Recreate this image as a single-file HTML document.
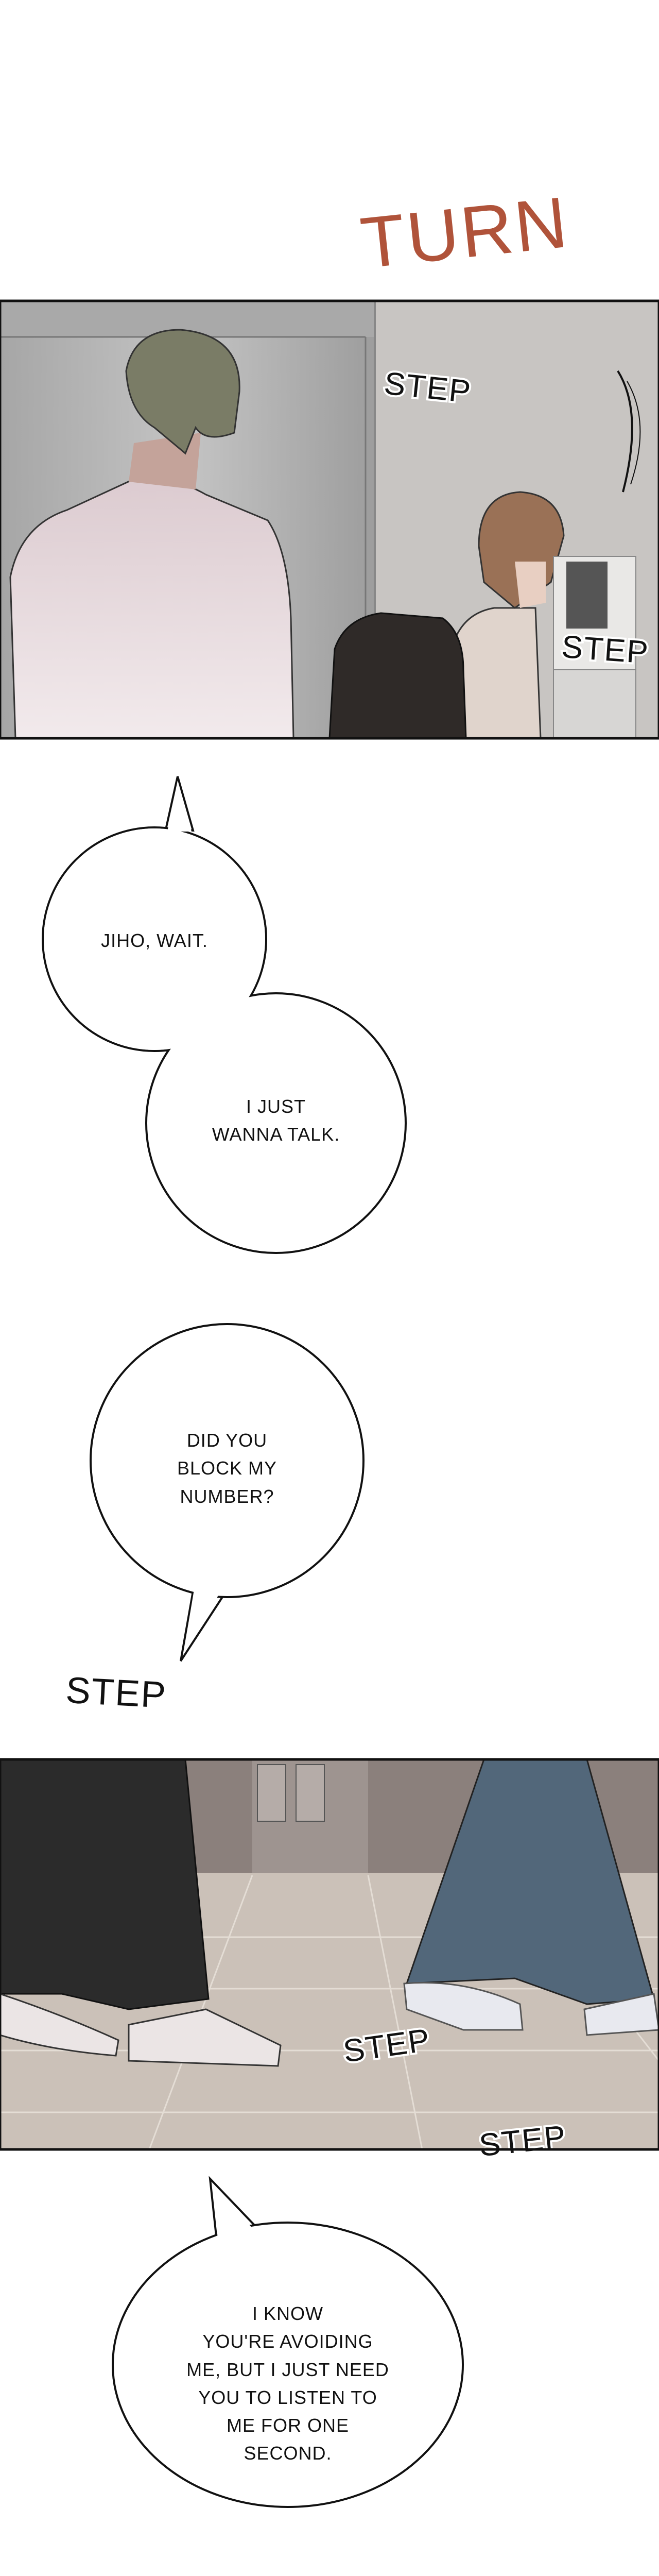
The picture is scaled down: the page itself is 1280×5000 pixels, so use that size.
<!DOCTYPE html>
<html><head><meta charset="utf-8"><style>
html,body{margin:0;padding:0;background:#fff;}
svg{display:block;}
.t{font-family:"Liberation Sans",sans-serif;font-size:36px;fill:#111;text-anchor:middle;letter-spacing:1px;}
.s{font-family:"Liberation Sans",sans-serif;font-size:62px;fill:#111;stroke:#fff;stroke-width:8px;paint-order:stroke;letter-spacing:2px;}
</style></head><body>
<svg width="1280" height="5000" viewBox="0 0 1280 5000" xmlns="http://www.w3.org/2000/svg">
<defs>
<linearGradient id="lg" x1="0" y1="0" x2="1" y2="0"><stop offset="0" stop-color="#a6a6a6"/><stop offset="0.5" stop-color="#c4c4c4"/><stop offset="1" stop-color="#9d9d9d"/></linearGradient>
<linearGradient id="shirt" x1="0" y1="0" x2="0" y2="1"><stop offset="0" stop-color="#dccbd0"/><stop offset="1" stop-color="#f2eaec"/></linearGradient>
</defs>
<rect width="1280" height="5000" fill="#fff"/>
<!-- TURN -->
<text x="700" y="505" font-family="Liberation Sans,sans-serif" font-size="140" fill="#b0533a" transform="rotate(-6 850 450)" letter-spacing="4">TURN</text>
<!-- Panel 1 -->
<g>
<rect x="0" y="584" width="1280" height="849" fill="#c8c5c2"/>
<rect x="0" y="584" width="728" height="849" fill="url(#lg)"/>
<rect x="0" y="584" width="728" height="70" fill="#a9a9a9"/>
<line x1="0" y1="654" x2="710" y2="654" stroke="#777" stroke-width="3"/>
<line x1="710" y1="654" x2="710" y2="1433" stroke="#777" stroke-width="3"/>
<line x1="728" y1="584" x2="728" y2="1433" stroke="#888" stroke-width="4"/>
<!-- left man -->
<path d="M30 1433 L20 1120 Q40 1020 130 990 L260 930 Q330 920 400 960 L520 1010 Q560 1070 565 1200 L570 1433 Z" fill="url(#shirt)" stroke="#333" stroke-width="3"/>
<path d="M250 935 L260 860 L390 840 L380 950 Z" fill="#c4a39a"/>
<path d="M245 720 Q260 640 350 640 Q470 650 465 760 L455 840 Q400 860 380 830 L360 880 L300 830 Q250 800 245 720Z" fill="#7a7c66" stroke="#333" stroke-width="3"/>
<!-- right man -->
<path d="M870 1433 L880 1250 Q900 1190 960 1180 L1040 1180 L1050 1433Z" fill="#e0d4cc" stroke="#333" stroke-width="3"/>
<path d="M930 1060 Q930 960 1010 955 Q1090 960 1095 1040 L1070 1130 L1000 1180 L940 1130Z" fill="#9a7156" stroke="#333" stroke-width="3"/>
<path d="M1000 1090 L1060 1090 L1060 1170 L1010 1180Z" fill="#e8cfc2"/>
<path d="M640 1433 L650 1260 Q670 1200 740 1190 L860 1200 Q900 1230 900 1300 L905 1433Z" fill="#2f2a28" stroke="#111" stroke-width="3"/>
<rect x="1075" y="1080" width="160" height="220" fill="#e9e8e6" stroke="#888" stroke-width="2"/>
<rect x="1100" y="1090" width="80" height="130" fill="#555"/>
<rect x="1075" y="1300" width="160" height="133" fill="#d7d6d4" stroke="#888" stroke-width="2"/>
<path d="M1200 720 Q1250 800 1210 955" fill="none" stroke="#111" stroke-width="4"/>
<path d="M1218 740 Q1265 820 1225 940" fill="none" stroke="#111" stroke-width="2"/>
<text class="s" x="745" y="770" font-size="50" transform="rotate(6 800 760)">STEP</text>
<text class="s" x="1090" y="1280" font-size="50" transform="rotate(4 1150 1270)">STEP</text>
<rect x="0" y="584" width="1280" height="849" fill="none" stroke="#111" stroke-width="5"/>
</g>
<!-- Bubble 1 & 2 -->
<g fill="#fff" stroke="#111" stroke-width="4">
<path d="M322 1610 L345 1507 L375 1612 Z"/>
<circle cx="300" cy="1823" r="217"/>
<circle cx="536" cy="2180" r="252"/>
</g>
<path d="M325 1614 L345 1515 L372 1614Z" fill="#fff"/>
<circle cx="300" cy="1823" r="215" fill="#fff"/>
<text class="t" x="300" y="1838">JIHO, WAIT.</text>
<text class="t" x="536" y="2160">I JUST</text>
<text class="t" x="536" y="2214">WANNA TALK.</text>
<!-- Bubble 3 -->
<g fill="#fff" stroke="#111" stroke-width="4">
<path d="M380 3060 L351 3224 L445 3080 Z"/>
<circle cx="441" cy="2835" r="265"/>
</g>
<path d="M383 3050 L356 3210 L440 3070Z" fill="#fff"/>
<text class="t" x="441" y="2808">DID YOU</text>
<text class="t" x="441" y="2862">BLOCK MY</text>
<text class="t" x="441" y="2917">NUMBER?</text>
<text x="128" y="3310" font-family="Liberation Sans,sans-serif" font-size="72" fill="#111" transform="rotate(3 230 3280)" letter-spacing="2">STEP</text>
<!-- Panel 2 -->
<g>
<rect x="0" y="3415" width="1280" height="757" fill="#cbc1b8"/>
<rect x="0" y="3415" width="1280" height="220" fill="#8b807c"/>
<rect x="490" y="3415" width="225" height="220" fill="#9e9490"/>
<rect x="500" y="3425" width="55" height="110" fill="#b5aca8" stroke="#555" stroke-width="2"/>
<rect x="575" y="3425" width="55" height="110" fill="#b5aca8" stroke="#555" stroke-width="2"/>
<g stroke="#e4ddd5" stroke-width="3">
<line x1="0" y1="3760" x2="1280" y2="3760"/><line x1="0" y1="3860" x2="1280" y2="3860"/>
<line x1="0" y1="3980" x2="1280" y2="3980"/><line x1="0" y1="4100" x2="1280" y2="4100"/>
<line x1="490" y1="3640" x2="290" y2="4172"/><line x1="715" y1="3640" x2="820" y2="4172"/>
<line x1="1000" y1="3640" x2="1280" y2="4000"/>
</g>
<path d="M0 3415 L360 3415 L405 3880 L250 3900 L120 3870 L0 3870Z" fill="#2b2b2b" stroke="#111" stroke-width="3"/>
<path d="M0 3870 Q120 3910 230 3960 L225 3990 Q100 3980 0 3950Z" fill="#ebe5e5" stroke="#333" stroke-width="3"/>
<path d="M250 3930 L400 3900 L545 3970 L540 4010 L250 4000Z" fill="#ebe5e5" stroke="#333" stroke-width="3"/>
<path d="M940 3415 L1140 3415 L1270 3880 L1140 3890 L1000 3840 L790 3850 Z" fill="#52677a" stroke="#222" stroke-width="3"/>
<path d="M785 3850 Q900 3840 1010 3890 L1015 3940 L900 3940 L790 3900Z" fill="#e8e9ef" stroke="#555" stroke-width="3"/>
<path d="M1135 3900 L1270 3870 L1280 3940 L1140 3950Z" fill="#e8e9ef" stroke="#555" stroke-width="3"/>
<text class="s" x="665" y="3990" font-size="66" transform="rotate(-8 760 3960)">STEP</text>
<text class="s" x="930" y="4175" font-size="66" transform="rotate(-6 1030 4150)">STEP</text>
<rect x="0" y="3415" width="1280" height="757" fill="none" stroke="#111" stroke-width="5"/>
</g>
<!-- Bubble 4 -->
<g fill="#fff" stroke="#111" stroke-width="4">
<path d="M420 4340 L408 4229 L500 4325Z"/>
<ellipse cx="559" cy="4590" rx="340" ry="276"/>
</g>
<path d="M423 4345 L412 4240 L495 4330Z" fill="#fff"/>
<text class="t" x="559" y="4503">I KNOW</text>
<text class="t" x="559" y="4557">YOU'RE AVOIDING</text>
<text class="t" x="559" y="4612">ME, BUT I JUST NEED</text>
<text class="t" x="559" y="4666">YOU TO LISTEN TO</text>
<text class="t" x="559" y="4720">ME FOR ONE</text>
<text class="t" x="559" y="4774">SECOND.</text>
</svg>
</body></html>
